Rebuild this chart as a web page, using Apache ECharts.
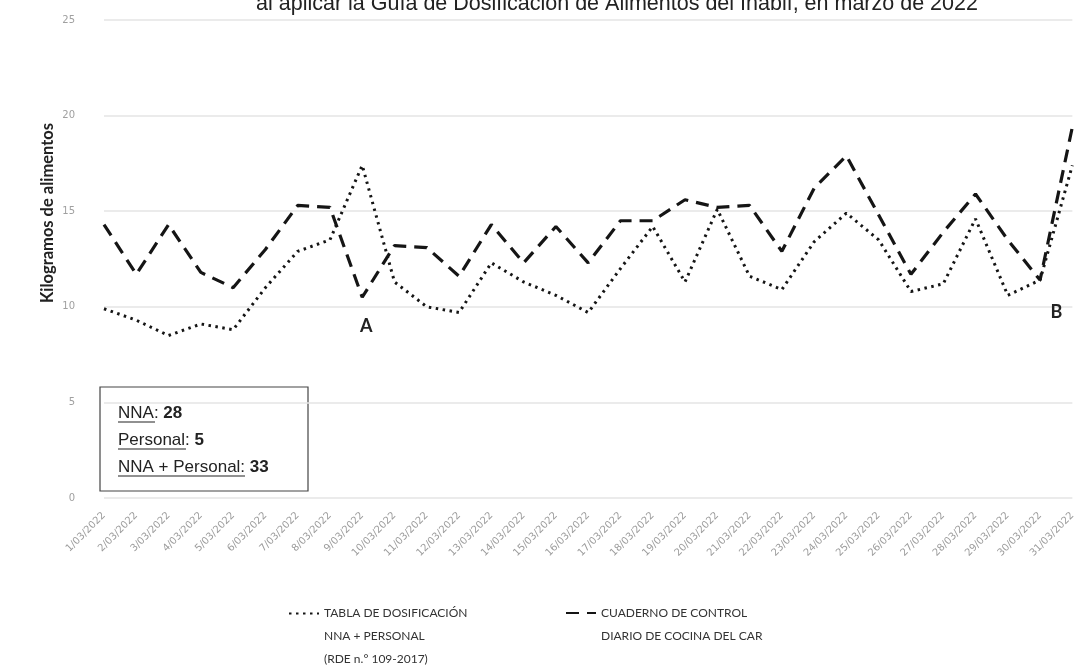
<!DOCTYPE html>
<html>
<head>
<meta charset="utf-8">
<script src="https://cdn.jsdelivr.net/npm/echarts@6/dist/echarts.min.js"></script>
<style>
html,body{margin:0;padding:0;background:#fff;}
#chart{width:1078px;height:672px;}
</style>
</head>
<body>
<div id="chart"></div>
<script>
var titleText = 'al aplicar la Guía de Dosificación de Alimentos del Inabif, en marzo de 2022';
var yAxisTitle = 'Kilogramos de alimentos';
var categories = [];
for (var d = 1; d <= 31; d++) { categories.push(d + '/03/2022'); }
var seriesNames = ['TABLA DE DOSIFICACIÓN\nNNA + PERSONAL\n(RDE n.° 109-2017)', 'CUADERNO DE CONTROL\nDIARIO DE COCINA DEL CAR'];
var tablaValues = [9.9, 9.3, 8.5, 9.1, 8.8, 11.0, 12.9, 13.5, 17.4, 11.3, 10.0, 9.7, 12.3, 11.3, 10.6, 9.7, 12.0, 14.2, 11.3, 15.1, 11.6, 10.9, 13.4, 14.9, 13.5, 10.8, 11.2, 14.6, 10.6, 11.4, 17.4];
var cuadernoValues = [14.3, 11.7, 14.3, 11.8, 11.0, 13.0, 15.3, 15.2, 10.5, 13.2, 13.1, 11.6, 14.3, 12.3, 14.2, 12.3, 14.5, 14.5, 15.6, 15.2, 15.3, 12.9, 16.2, 17.9, 14.8, 11.7, 13.9, 15.9, 13.5, 11.4, 19.4];
var yTicks = [0, 5, 10, 15, 20, 25];
var boxLines = [['NNA', '28'], ['Personal', '5'], ['NNA + Personal', '33']];
var annotations = [['A', '9/03/2022', 9.0], ['B', '31/03/2022', 9.7]];

var chart = echarts.init(document.getElementById('chart'));
var lineColor = '#151515';
var legendFont = 'Lato, "Open Sans", sans-serif';
var narrowFont = '"Liberation Sans Narrow", "Arial Narrow", "Liberation Sans", sans-serif';

var boxChildren = [{
  type: 'rect', shape: {x: 0, y: 0, width: 208, height: 104},
  style: {fill: '#fff', stroke: '#444', lineWidth: 1.2}
}];
var underlineW = [37, 68, 127];
boxLines.forEach(function (l, i) {
  boxChildren.push({
    type: 'text', x: 18, y: 26 + i * 27,
    style: {
      text: '{a|' + l[0] + '}{c|: }{b|' + l[1] + '}',
      verticalAlign: 'middle',
      rich: {
        a: {fontFamily: narrowFont, fontSize: 17, fill: '#222'},
        c: {fontFamily: narrowFont, fontSize: 17, fill: '#222'},
        b: {fontFamily: narrowFont, fontSize: 17, fontWeight: 'bold', fill: '#222'}
      }
    }
  });
  boxChildren.push({
    type: 'line', shape: {x1: 18, y1: 35 + i * 27, x2: 18 + underlineW[i], y2: 35 + i * 27},
    style: {stroke: '#222', lineWidth: 1.2}
  });
});

var legendCommon = {
  itemWidth: 30, itemHeight: 12,
  itemStyle: {opacity: 0},
  textStyle: {fontFamily: legendFont, fontSize: 12, color: '#333', lineHeight: 23}
};

var option = {
  backgroundColor: '#ffffff',
  animation: false,
  title: {
    text: titleText, left: 612, textAlign: 'center', top: -12,
    textStyle: {fontFamily: '"Liberation Sans", Arial, sans-serif', fontSize: 21.5, fontWeight: 'normal', color: '#222'}
  },
  grid: {left: 104, right: 5, top: 20, bottom: 174},
  legend: [
    Object.assign({data: [seriesNames[0]], left: 283, top: 551,
      formatter: function (n) { return '\n\n' + n; }}, legendCommon),
    Object.assign({data: [seriesNames[1]], left: 560, top: 573.5,
      formatter: function (n) { return '\n' + n; }}, legendCommon)
  ],
  xAxis: {
    type: 'category', data: categories, boundaryGap: false,
    axisLine: {show: false}, axisTick: {show: false},
    axisLabel: {rotate: 45, interval: 0, margin: 16, fontSize: 10, color: '#9c9c9c', fontFamily: '"DejaVu Sans", sans-serif'},
    splitLine: {show: false}
  },
  yAxis: {
    type: 'value', min: 0, max: 25, interval: 5,
    axisLine: {show: false}, axisTick: {show: false},
    axisLabel: {margin: 29, fontSize: 10, color: '#a0a0a0', fontFamily: '"DejaVu Sans", sans-serif'},
    splitLine: {lineStyle: {color: '#e4e4e4', width: 1.5}}
  },
  series: [{
    name: seriesNames[0], type: 'line', data: tablaValues, symbol: 'none',
    lineStyle: {color: lineColor, width: 3, type: [2.5, 4.5], cap: 'butt'},
    itemStyle: {color: lineColor},
    markPoint: {
      symbol: 'circle', symbolSize: 1,
      itemStyle: {color: 'rgba(0,0,0,0)'},
      label: {show: true, position: 'inside', fontFamily: 'Lato, "Open Sans", sans-serif', fontSize: 18, fontWeight: 'bold', color: '#222'},
      data: annotations.map(function (a, i) {
        return {coord: [a[1], a[2]], value: a[0], label: {formatter: a[0], offset: i === 1 ? [-16, 0] : [4, 0]}};
      })
    }
  }, {
    name: seriesNames[1], type: 'line', data: cuadernoValues, symbol: 'none',
    lineStyle: {color: lineColor, width: 3.2, type: [13, 8], cap: 'butt'},
    itemStyle: {color: lineColor}
  }],
  graphic: [{
    type: 'text', x: 48, y: 213, rotation: Math.PI / 2,
    style: {text: yAxisTitle, fontFamily: 'Lato, "Open Sans", sans-serif', fontSize: 16.5, fontWeight: 'bold', fill: '#222', align: 'center', verticalAlign: 'middle'}
  }, {
    type: 'group', x: 100, y: 387, children: boxChildren
  }]
};
chart.setOption(option);
</script>
</body>
</html>
